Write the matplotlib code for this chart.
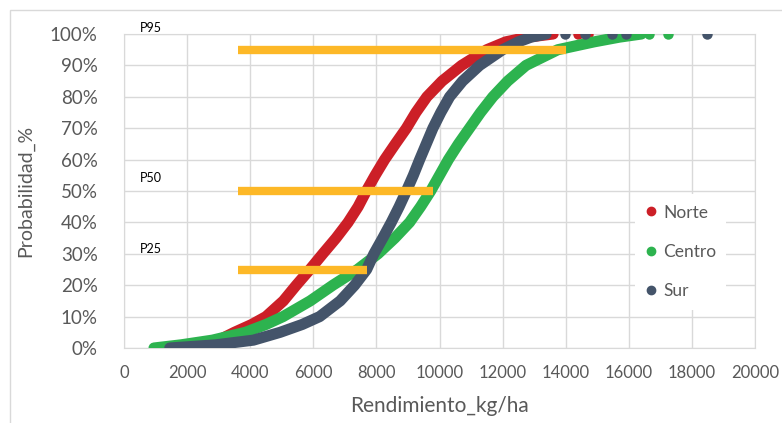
import matplotlib
matplotlib.use('Agg')
import matplotlib.pyplot as plt
from matplotlib.patches import Rectangle
from matplotlib.ticker import PercentFormatter

plt.rcParams['font.family'] = ['Lato', 'DejaVu Sans']

# cumulative probability levels (fraction)
prob = [0, 0.01, 0.025, 0.05, 0.075, 0.10, 0.15, 0.20, 0.25, 0.30, 0.35,
        0.40, 0.45, 0.50, 0.55, 0.60, 0.65, 0.70, 0.75, 0.80, 0.85, 0.90,
        0.95, 0.975, 0.99, 1.0]

# yield (kg/ha) at each probability level
norte = [1300, 2200, 3000, 3500, 4050, 4500, 5050, 5460, 5890, 6300, 6720,
         7100, 7420, 7680, 7960, 8260, 8600, 8950, 9250, 9600, 10080, 10700,
         11500, 12100, 12800, 13600]
centro = [950, 1800, 2800, 3850, 4500, 5040, 5900, 6620, 7400, 8050, 8580,
          9050, 9400, 9720, 10000, 10280, 10600, 10950, 11300, 11690, 12160,
          12740, 13750, 14900, 15700, 16400]
sur = [1450, 2900, 4100, 4950, 5650, 6200, 6850, 7310, 7690, 7920, 8200,
       8470, 8720, 8950, 9170, 9370, 9580, 9790, 10040, 10320, 10730, 11270,
       12000, 12500, 12900, 13380]

# isolated top points (probability 100%)
norte_top = [14400, 14700, 16200]
centro_top = [16650, 17250]
sur_top = [13990, 14620, 15470, 15900, 18480]

# percentile reference lines: label, probability, start, end
p_labels = ['P95', 'P50', 'P25']
p_levels = [0.95, 0.50, 0.25]
p_start = [3600, 3600, 3600]
p_end = [14000, 9780, 7700]
p_text_y = [1.02, 0.54, 0.315]

c_norte = '#cc1f27'
c_centro = '#2db34f'
c_sur = '#44546a'
c_orange = '#fdb827'
c_grid = '#d9d9d9'
c_text = '#595959'

fig = plt.figure(figsize=(7.82, 4.23), dpi=100)
ax = fig.add_axes([0.1586, 0.1773, 0.8069, 0.7423])

# outer chart border
fig.add_artist(Rectangle((10 / 782, -0.1), 1.2, 1 - 10 / 423 + 0.1,
                         transform=fig.transFigure, fill=False,
                         edgecolor=c_grid, linewidth=1))

series = [('Norte', norte, norte_top, c_norte),
          ('Centro', centro, centro_top, c_centro),
          ('Sur', sur, sur_top, c_sur)]

for name, xs, tops, col in series:
    ax.plot(xs, prob, color=col, linewidth=8, solid_capstyle='round',
            solid_joinstyle='round', zorder=3)
    ax.plot(tops, [1.0] * len(tops), 'o', color=col, markersize=7.5,
            markeredgewidth=0, zorder=3)
    ax.plot([], [], 'o', color=col, markersize=6, label=name)

for lab, lvl, x0, x1, ty in zip(p_labels, p_levels, p_start, p_end, p_text_y):
    ax.plot([x0, x1], [lvl, lvl], color=c_orange, linewidth=6,
            solid_capstyle='butt', zorder=4)
    ax.text(500, ty, lab, fontsize=9, color='black', ha='left', va='center',
            clip_on=False)

ax.set_xlim(0, 20000)
ax.set_ylim(0, 1)
ax.set_xticks(range(0, 20001, 2000))
ax.set_yticks([i / 10 for i in range(11)])
ax.yaxis.set_major_formatter(PercentFormatter(1.0, decimals=0))
ax.grid(True, color=c_grid, linewidth=1)
ax.set_axisbelow(True)
for sp in ax.spines.values():
    sp.set_color(c_grid)
ax.tick_params(length=0, colors=c_text)
ax.tick_params(axis='y', labelsize=13.5, pad=19)
ax.tick_params(axis='x', labelsize=12, pad=12)

ax.set_xlabel('Rendimiento_kg/ha', fontsize=15, color=c_text, labelpad=11)
ax.set_ylabel('Probabilidad_%', fontsize=14, color=c_text, labelpad=11)

leg = ax.legend(loc='upper left', bbox_to_anchor=(0.81, 0.49), frameon=True,
                fontsize=12.5, labelspacing=1.35, handlelength=0.6,
                handletextpad=0.4, borderaxespad=0, borderpad=0.6)
leg.get_frame().set_edgecolor('none')
leg.get_frame().set_facecolor('white')
leg.get_frame().set_alpha(1)
for t in leg.get_texts():
    t.set_color(c_text)

plt.savefig('out.png', dpi=100)
